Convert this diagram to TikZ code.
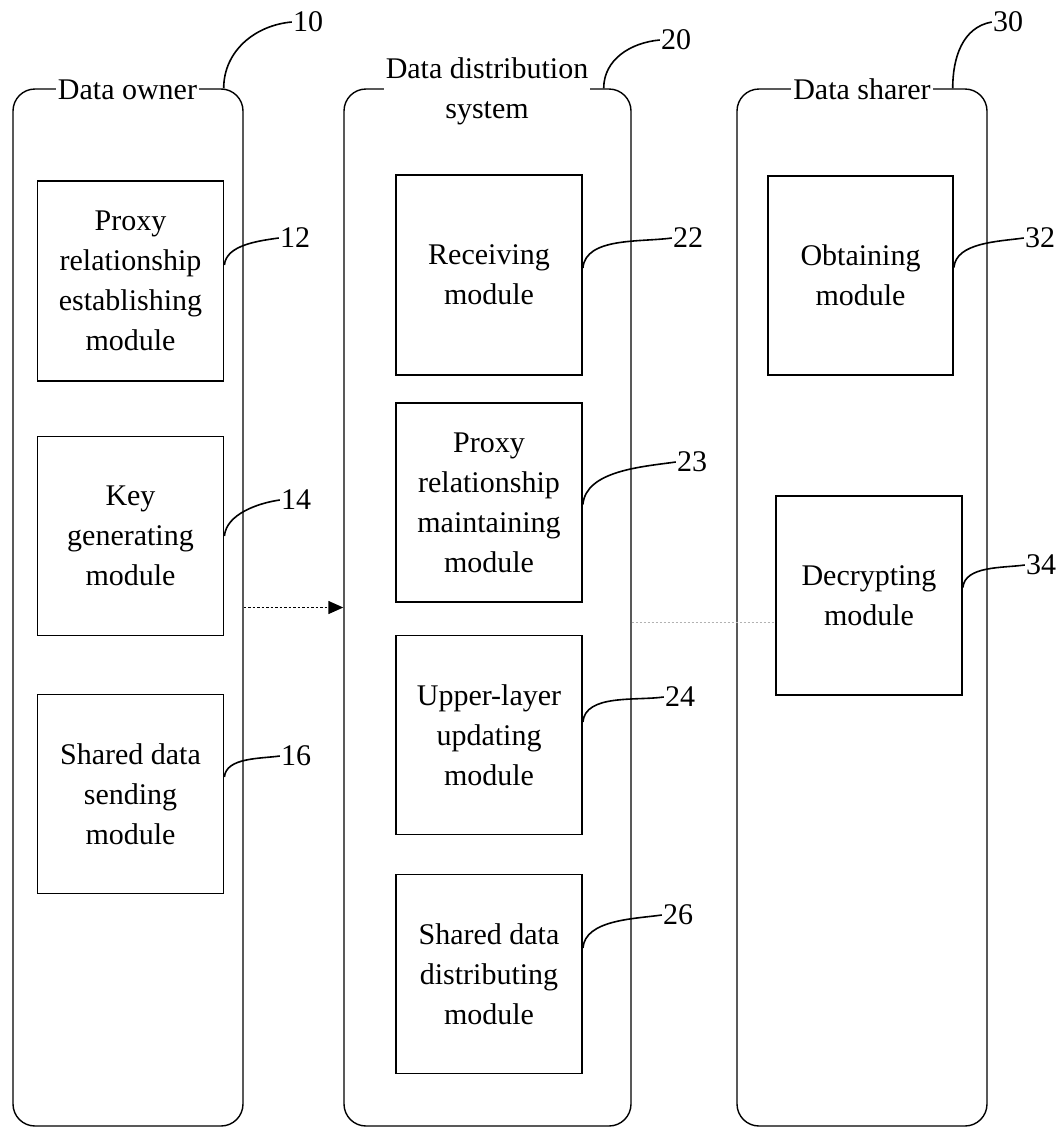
\documentclass[tikz,border=0pt]{standalone}
\usepackage{fontspec}
\setmainfont{Liberation Serif}
\usetikzlibrary{arrows.meta}

\tikzset{
  txt/.style={font=\fontsize{30}{40}\selectfont},
  container/.style={draw, line width=1.4pt, rounded corners=22pt, minimum height=1037pt, inner sep=0pt},
  title/.style={txt, fill=white, inner sep=2pt, align=center, anchor=base},
  module/.style={draw, line width=1.8pt, txt, align=center, minimum width=186pt, minimum height=199pt, inner sep=0pt},
  num/.style={txt, inner sep=1pt},
  callout/.style={line width=1.6pt, out=85, in=188, looseness=0.85},
  flow/.style={line width=1.4pt, dash pattern=on 2.5pt off 2pt, -{Triangle[length=15pt,width=13pt]}},
  link/.style={line width=1.2pt, gray!60, dash pattern=on 2pt off 2pt}
}

\begin{document}
\begin{tikzpicture}[x=1pt, y=-1pt]
\useasboundingbox (0,0) rectangle (1063,1128);

% three participants
\node[container, minimum width=230pt] (c10) at (128,607.5) {};
\node[container, minimum width=287pt] (c20) at (487.5,607.5) {};
\node[container, minimum width=250pt] (c30) at (862,607.5) {};

\node[title] (t10) at (127.5,99) {Data owner};
\node[title] (t20) at (487,118) {Data distribution\\system};
\node[title] (t30) at (862,99) {Data sharer};

% reference numerals of the participants
\node[num] (n10) at (308,22) {10};
\node[num] (n20) at (676,40) {20};
\node[num] (n30) at (1008,22) {30};
\draw[callout, out=90, in=185, looseness=1] ([xshift=-20pt]c10.north east) to (n10.west);
\draw[callout, out=90, in=185, looseness=1] ([xshift=-28pt]c20.north east) to (n20.west);
\draw[callout, out=90, in=190, looseness=1] ([xshift=-35pt]c30.north east) to (n30.west);

% data owner modules
\node[module, minimum height=200pt] (b12) at (130.5,281) {Proxy\\relationship\\establishing\\module};
\node[module] (b14) at (130.5,536) {Key\\generating\\module};
\node[module] (b16) at (130.5,794) {Shared data\\sending\\module};

% data distribution system modules
\node[module, minimum height=200pt] (b22) at (489,275) {Receiving\\module};
\node[module] (b23) at (489,502.5) {Proxy\\relationship\\maintaining\\module};
\node[module] (b24) at (489,735) {Upper-layer\\updating\\module};
\node[module] (b26) at (489,974) {Shared data\\distributing\\module};

% data sharer modules
\node[module, minimum width=185pt] (b32) at (860.5,275.5) {Obtaining\\module};
\node[module] (b34) at (869,595.5) {Decrypting\\module};

% reference numerals of the modules
\node[num] (n12) at (295,238) {12};
\node[num] (n14) at (296,500) {14};
\node[num] (n16) at (296,756) {16};
\node[num] (n22) at (688,238) {22};
\node[num] (n23) at (692,462) {23};
\node[num] (n24) at (680,697) {24};
\node[num] (n26) at (678,915) {26};
\node[num] (n32) at (1040,238) {32};
\node[num] (n34) at (1041,565) {34};

\draw[callout] ([yshift=16pt]b12.east) to (n12.west);
\draw[callout] ([yshift=0pt]b14.east) to (n14.west);
\draw[callout] ([yshift=17pt]b16.east) to (n16.west);
\draw[callout] ([yshift=7pt]b22.east) to (n22.west);
\draw[callout] ([yshift=-2pt]b23.east) to (n23.west);
\draw[callout] ([yshift=13pt]b24.east) to (n24.west);
\draw[callout] ([yshift=26pt]b26.east) to (n26.west);
\draw[callout] ([yshift=8pt]b32.east) to (n32.west);
\draw[callout] ([yshift=8pt]b34.east) to (n34.west);

% connections between participants
\draw[flow] (c10.east) -- (c20.west);
\draw[link] ([yshift=-15pt]c20.east) -- ([yshift=-15pt]c20.east -| b34.west);
\end{tikzpicture}
\end{document}
